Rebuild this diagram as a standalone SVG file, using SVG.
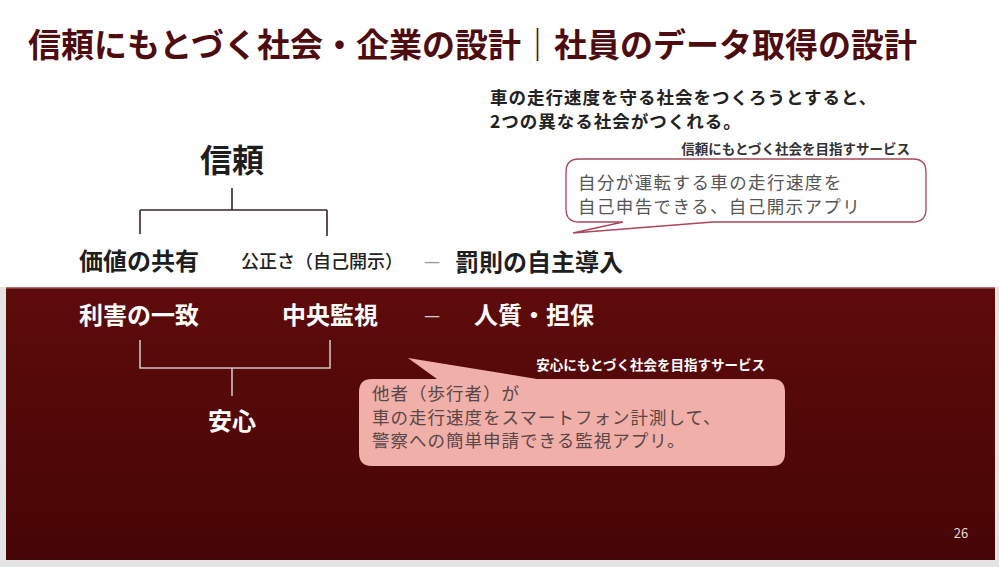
<svg xmlns="http://www.w3.org/2000/svg" width="999" height="567" viewBox="0 0 999 567">
<defs>
<linearGradient id="panel" x1="0" y1="0" x2="0" y2="1">
<stop offset="0" stop-color="#5e0b0b"/>
<stop offset="1" stop-color="#470505"/>
</linearGradient>
<style>
text{font-family:"Noto Sans CJK JP","Noto Sans",sans-serif}
.title{font-size:33px;font-weight:700;fill:#4d0c10}
.sub{font-size:17.5px;letter-spacing:1px;font-weight:700;fill:#222}
.dk{font-weight:700;fill:#1e1e1e}
.wh{font-weight:700;fill:#fff}
.lbl{font-size:13.5px;font-weight:700}
.bt{font-size:17.5px;letter-spacing:1.4px;fill:#555}
.pt{font-size:17.5px;letter-spacing:1px;fill:#5a4646}
.tree{fill:none;stroke:#3a2226;stroke-width:1.6}
.tree2{fill:none;stroke:#cfc4c4;stroke-width:1.6}
</style>
</defs>
<rect width="999" height="567" fill="#ffffff"/>
<rect x="0" y="287" width="999" height="280" fill="#e4e4e4"/>
<rect x="6" y="287" width="989" height="273" fill="url(#panel)"/>
<rect x="6" y="287" width="989" height="1.5" fill="#b07070"/>

<g id="title"><text class="title" x="28" y="57">信頼にもとづく社会・企業の設計｜社員のデータ取得の設計</text></g>
<g id="subtitle">
<text class="sub" x="490" y="104">車の走行速度を守る社会をつくろうとすると、</text>
<text class="sub" x="490" y="128">2つの異なる社会がつくれる。</text>
</g>

<g id="connectors">
<path class="tree" d="M232,188 V210 M140,210 H327 M140,210 V234 M327,210 V236"/>
<path class="tree2" d="M140,340 V368 H330 V340 M232,368 V396"/>
</g>

<g id="node-shinrai"><text class="dk" x="232" y="172" font-size="32" text-anchor="middle">信頼</text></g>
<g id="node-kachi"><text class="dk" x="79" y="270" font-size="24">価値の共有</text></g>
<g id="node-kosei"><text x="241" y="268" font-size="18" fill="#222" font-weight="500">公正さ（自己開示）</text></g>
<g id="dash1"><text x="424" y="268" font-size="18" fill="#999">—</text></g>
<g id="node-bassoku"><text class="dk" x="455" y="271" font-size="24">罰則の自主導入</text></g>

<g id="node-rigai"><text class="wh" x="79" y="324" font-size="24">利害の一致</text></g>
<g id="node-chuo"><text class="wh" x="282" y="324" font-size="24">中央監視</text></g>
<g id="dash2"><text x="424" y="322" font-size="18" fill="#d8cccc">—</text></g>
<g id="node-hitojichi"><text class="wh" x="474" y="324" font-size="24">人質・担保</text></g>
<g id="node-anshin"><text class="wh" x="232" y="430" font-size="24" text-anchor="middle">安心</text></g>

<g id="bubble-trust">
<text class="lbl" x="910" y="154" text-anchor="end" fill="#333">信頼にもとづく社会を目指すサービス</text>
<path d="M579,159 H913 Q926,159 926,172 V209 Q926,222 913,222 H713 L573,233 L623,222 H579 Q566,222 566,209 V172 Q566,159 579,159 Z" fill="#fff" stroke="#a8485a" stroke-width="1.3"/>
<text class="bt" x="578" y="188.5">自分が運転する車の走行速度を</text>
<text class="bt" x="578" y="212.5">自己申告できる、自己開示アプリ</text>
</g>

<g id="bubble-anshin">
<text class="lbl" x="765" y="370" text-anchor="end" fill="#fff">安心にもとづく社会を目指すサービス</text>
<path d="M372,379 H437 L408,358 L537,379 H772 Q785,379 785,392 V453 Q785,466 772,466 H372 Q359,466 359,453 V392 Q359,379 372,379 Z" fill="#f0afa9"/>
<text class="pt" x="372" y="400">他者（歩行者）が</text>
<text class="pt" x="372" y="423.5">車の走行速度をスマートフォン計測して、</text>
<text class="pt" x="372" y="447">警察への簡単申請できる監視アプリ。</text>
</g>

<g id="page"><text x="961" y="538" font-size="13" fill="#e6dcdc" text-anchor="middle" font-family="Liberation Sans,sans-serif">26</text></g>
</svg>
